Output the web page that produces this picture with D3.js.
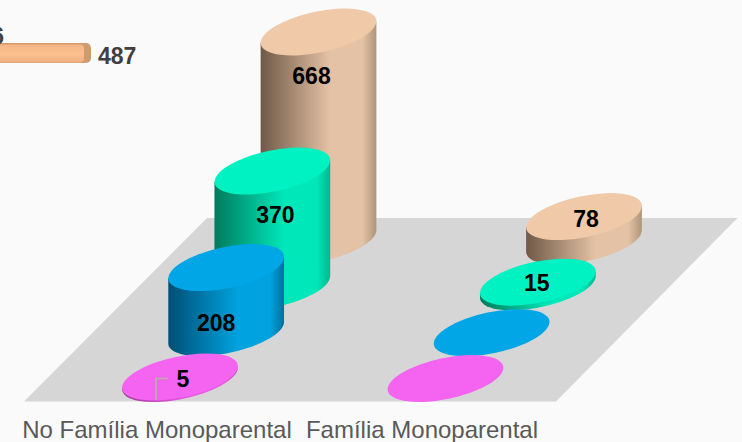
<!DOCTYPE html>
<html>
<head>
<meta charset="utf-8">
<script src="https://cdn.jsdelivr.net/npm/d3@7"></script>
<style>
    html, body { margin: 0; padding: 0; background: #fafafa; }
    svg { display: block; }
    text { font-family: "Liberation Sans", Arial, sans-serif; }
</style>
</head>
<body>
<div id="chart-area"></div>
<script>
// data
var groups = ["No Família Monoparental", "Família Monoparental"];
var series = ["tan", "green", "blue", "pink"]; // back to front
var noFamilia = [668, 370, 208, 5];
var familia = [78, 15, 0, 0];
var strayValue = 487;
var strayLabel = "6";

var colors = {
    tan: { top: "#f0c9a9", dark: "#6e5947", light: "#e4c2a5", edge: "#b09579" },
    green: { top: "#00f2c2", dark: "#007a5c", light: "#00e8b9", edge: "#00b78f" },
    blue: { top: "#00a6e5", dark: "#004f74", light: "#00a2df", edge: "#00709c" },
    pink: { top: "#f564f1", dark: "#a03a9c", light: "#e85ce4", edge: "#c04bbd" }
};

// label offset from the top ellipse centre, [dx, dy]
var labelOffsets = {
    "0-tan": [-7, 44], "0-green": [3, 44], "0-blue": [-10, 55], "0-pink": [3, 2],
    "1-tan": [2, 2], "1-green": [-1, 1]
};

var width = 742;
var height = 442;

var svg = d3.select("#chart-area").append("svg")
    .attr("width", width)
    .attr("height", height);

svg.append("rect")
    .attr("width", width)
    .attr("height", height)
    .attr("fill", "#fafafa");

var defs = svg.append("defs");

series.forEach(function(s) {
    var grad = defs.append("linearGradient")
        .attr("id", "side-" + s)
        .attr("x1", 0).attr("x2", 1).attr("y1", 0).attr("y2", 0);
    grad.append("stop").attr("offset", "0%").attr("stop-color", colors[s].dark);
    grad.append("stop").attr("offset", "60%").attr("stop-color", colors[s].light);
    grad.append("stop").attr("offset", "88%").attr("stop-color", colors[s].light);
    grad.append("stop").attr("offset", "100%").attr("stop-color", colors[s].edge);
});

var barGrad = defs.append("linearGradient")
    .attr("id", "bar-front")
    .attr("x1", 0).attr("x2", 0).attr("y1", 0).attr("y2", 1);
barGrad.append("stop").attr("offset", "0%").attr("stop-color", "#f3b585");
barGrad.append("stop").attr("offset", "50%").attr("stop-color", "#fcbf8e");
barGrad.append("stop").attr("offset", "100%").attr("stop-color", "#eeb080");

// scales
var x = d3.scalePoint().domain(groups).range([180, 445.5]);
var depthX = d3.scalePoint().domain(series.slice().reverse()).range([0, 138.5]);
var depthY = d3.scalePoint().domain(series.slice().reverse()).range([378.5, 241]);
var h = d3.scaleLinear().domain([0, 668]).range([0, 209]);
var labelX = d3.scalePoint().domain(groups).range([156.5, 421.5]);
var strayX = d3.scaleLinear().domain([0, strayValue]).range([-300, 91]);

// floor
svg.append("polygon")
    .attr("points", "24,401.5 556,401.5 737.5,218 207,218")
    .attr("fill", "#d6d6d6");

// ellipse shape
var rx = 59;
var ry = 20.5;
var angle = -12;
var rad = angle * Math.PI / 180;
var hx = Math.sqrt(rx * rx * Math.cos(rad) * Math.cos(rad) + ry * ry * Math.sin(rad) * Math.sin(rad));
var tilt = (rx * rx - ry * ry) * Math.sin(-rad) * Math.cos(rad) / hx;

function sidePath(cx, top, base) {
    return "M" + (cx - hx) + "," + (top + tilt) +
        "L" + (cx - hx) + "," + (base + tilt) +
        "A" + rx + "," + ry + " " + angle + " 0 0 " + (cx + hx) + "," + (base - tilt) +
        "L" + (cx + hx) + "," + (top - tilt) + "Z";
}

var rows = [];
groups.forEach(function(g, gi) {
    var values = gi === 0 ? noFamilia : familia;
    series.forEach(function(s, si) {
        rows.push({ group: g, gi: gi, series: s, value: values[si] });
    });
});

var cyl = svg.selectAll("g.cyl").data(rows).enter().append("g")
    .attr("class", "cyl");

cyl.filter(function(d) { return d.value > 0; }).append("path")
    .attr("d", function(d) {
        var cx = x(d.group) + depthX(d.series);
        var base = depthY(d.series);
        return sidePath(cx, base - h(d.value), base);
    })
    .attr("fill", function(d) { return "url(#side-" + d.series + ")"; });

cyl.append("ellipse")
    .attr("rx", rx)
    .attr("ry", ry)
    .attr("transform", function(d) {
        var cx = x(d.group) + depthX(d.series);
        var top = depthY(d.series) - h(d.value);
        return "translate(" + cx + "," + top + ") rotate(" + angle + ")";
    })
    .attr("fill", function(d) { return colors[d.series].top; });

// leader line of the small value
svg.append("path")
    .attr("d", "M156,400V378.5H168")
    .attr("fill", "none")
    .attr("stroke", "#b4b4a8")
    .attr("stroke-width", 1.5);

// value labels
svg.selectAll("text.value").data(rows.filter(function(d) { return d.value > 0; }))
    .enter().append("text")
    .attr("class", "value")
    .attr("x", function(d) {
        return x(d.group) + depthX(d.series) + labelOffsets[d.gi + "-" + d.series][0];
    })
    .attr("y", function(d) {
        return depthY(d.series) - h(d.value) + labelOffsets[d.gi + "-" + d.series][1];
    })
    .attr("dy", "0.35em")
    .attr("text-anchor", "middle")
    .attr("font-size", "23px")
    .attr("font-weight", "bold")
    .attr("fill", "#000")
    .text(function(d) { return d.value; });

// stray bar cut by the left edge
svg.append("rect")
    .attr("x", strayX(0))
    .attr("y", 43)
    .attr("width", strayX(strayValue) - strayX(0))
    .attr("height", 20)
    .attr("rx", 5)
    .attr("fill", "#cf9a6c");

svg.append("rect")
    .attr("x", strayX(0))
    .attr("y", 44.5)
    .attr("width", strayX(strayValue) - strayX(0) - 7)
    .attr("height", 18)
    .attr("rx", 4)
    .attr("fill", "url(#bar-front)");

svg.append("text")
    .attr("x", strayX(strayValue) + 7)
    .attr("y", 64)
    .attr("font-size", "23px")
    .attr("font-weight", "bold")
    .attr("fill", "#404040")
    .text(strayValue);

svg.append("text")
    .attr("x", 4)
    .attr("y", 44)
    .attr("text-anchor", "end")
    .attr("font-size", "23px")
    .attr("font-weight", "bold")
    .attr("fill", "#404040")
    .text(strayLabel);

// category axis
var xAxisGroup = svg.append("g")
    .attr("transform", "translate(0,421)")
    .call(d3.axisBottom(labelX).tickSize(0).tickPadding(0));

xAxisGroup.select(".domain").remove();
xAxisGroup.selectAll("text")
    .attr("font-size", "24px")
    .attr("font-family", "Liberation Sans")
    .attr("fill", "#595959");
</script>
</body>
</html>
